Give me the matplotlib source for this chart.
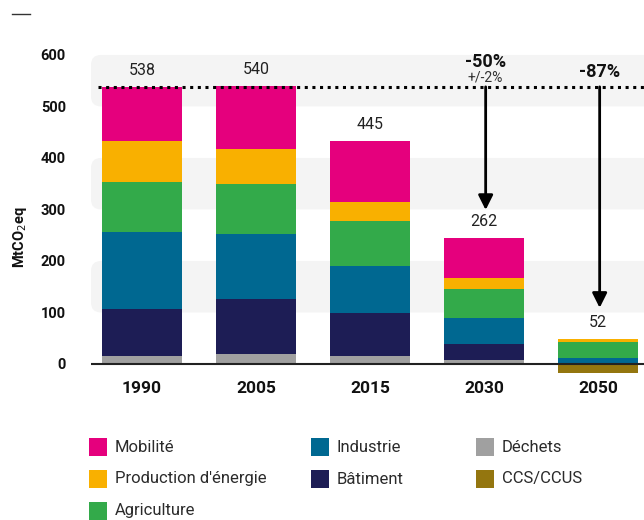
import matplotlib
matplotlib.use("Agg")
import matplotlib.pyplot as plt
from matplotlib.patches import FancyBboxPatch, Rectangle
from matplotlib.lines import Line2D
import numpy as np

plt.rcParams['font.family'] = ['Roboto', 'DejaVu Sans']

# data (MtCO2eq)
years = ["1990", "2005", "2015", "2030", "2050"]
totals = ["538", "540", "445", "262", "52"]
sectors = ["Déchets", "Bâtiment", "Industrie", "Agriculture",
           "Production d'énergie", "Mobilité"]
dechets = [16, 19, 16, 8, 1]
batiment = [91, 107, 83, 31, 1]
industrie = [149, 126, 91, 50, 10]
agriculture = [97, 98, 88, 57, 31]
energie = [80, 67, 37, 21, 6]
mobilite = [105, 123, 118, 78, 0]
ccs = [0, 0, 0, 0, -17]
ref_1990 = 538
targets = [("-50%", "+/-2%", 3, 299), ("-87%", None, 4, 109)]

colors = {
    "Mobilité": "#E5007D",
    "Production d'énergie": "#F9B000",
    "Agriculture": "#33AA4A",
    "Industrie": "#006891",
    "Bâtiment": "#1D1D55",
    "Déchets": "#A0A0A0",
    "CCS/CCUS": "#94760F",
}

fig = plt.figure(figsize=(6.44, 5.2), dpi=100)
ax = fig.add_axes([0.1413, 0.2604, 0.8587, 0.6538])
ax.set_xlim(-0.447, 4.404)
ax.set_ylim(-40, 620)

# light rounded bands
for lo in (100, 300, 500):
    band = FancyBboxPatch((-0.447, lo), 5.2, 100,
                          boxstyle="round,pad=0,rounding_size=0.088",
                          mutation_aspect=220, fc="#F4F4F4", ec="none", zorder=0)
    ax.add_patch(band)

x = np.arange(len(years))
w = 0.7
bottom = np.zeros(len(years))
for name, vals in zip(sectors, [dechets, batiment, industrie, agriculture, energie, mobilite]):
    ax.bar(x, vals, w, bottom=bottom, color=colors[name], zorder=2)
    bottom += np.array(vals)
ax.bar(x, ccs, w, color=colors["CCS/CCUS"], zorder=2)

for xi, top, lab in zip(x, bottom, totals):
    ax.annotate(lab, (xi, top), xytext=(0, 11.5), textcoords="offset points",
                ha="center", va="center", fontsize=11.5, color="#222222")

ax.axhline(0, color="#222222", lw=1.5, zorder=3)
ax.plot([-0.386, 4.404], [ref_1990, ref_1990], ls=(0, (1, 1.5)), lw=2.2,
        color="black", zorder=3)

for big, small, xi, tip in targets:
    ax.annotate("", xy=(xi + 0.015, tip), xytext=(xi + 0.015, ref_1990),
                arrowprops=dict(arrowstyle="-|>", lw=2, color="black",
                                mutation_scale=22, shrinkA=0, shrinkB=0), zorder=4)
    if small:
        ax.text(xi + 0.015, 587, big, ha="center", va="center", fontsize=13,
                fontweight="bold", color="#111111")
        ax.text(xi + 0.015, 557, small, ha="center", va="center", fontsize=10,
                color="#333333")
    else:
        ax.text(xi + 0.015, 567, big, ha="center", va="center", fontsize=13,
                fontweight="bold", color="#111111")

for xi, yr in zip(x, years):
    ax.text(xi, -48.5, yr, ha="center", va="center", fontsize=12.5,
            fontweight="bold", color="#111111", clip_on=False)

ax.set_yticks([0, 100, 200, 300, 400, 500, 600])
ax.set_yticklabels([str(v) for v in range(0, 700, 100)], fontweight="bold",
                   fontsize=10.5, color="#111111")
ax.tick_params(axis="y", length=0, pad=18)
ax.set_xticks([])
for s in ax.spines.values():
    s.set_visible(False)

fig.text(20 / 644, 1 - 237 / 520, "MtCO$_2$eq", rotation=90, ha="center",
         va="center", fontsize=10.5, fontweight="bold", color="#111111")

# small dash top-left
fig.add_artist(Line2D([12 / 644, 30 / 644], [1 - 14 / 520, 1 - 14 / 520],
                      color="#333333", lw=1))

# legend
legend_cols = [["Mobilité", "Production d'énergie", "Agriculture"],
               ["Industrie", "Bâtiment"],
               ["Déchets", "CCS/CCUS"]]
col_x = [89, 311, 476]
row_y = [447, 479, 511]
for cx, names in zip(col_x, legend_cols):
    for ry, name in zip(row_y, names):
        fig.add_artist(Rectangle((cx / 644, 1 - (ry + 9) / 520), 18 / 644, 18 / 520,
                                 transform=fig.transFigure, fc=colors[name], ec="none"))
        fig.text((cx + 26) / 644, 1 - ry / 520, name, ha="left", va="center",
                 fontsize=12, color="#2b2b2b")

fig.savefig("out.png", dpi=100)
